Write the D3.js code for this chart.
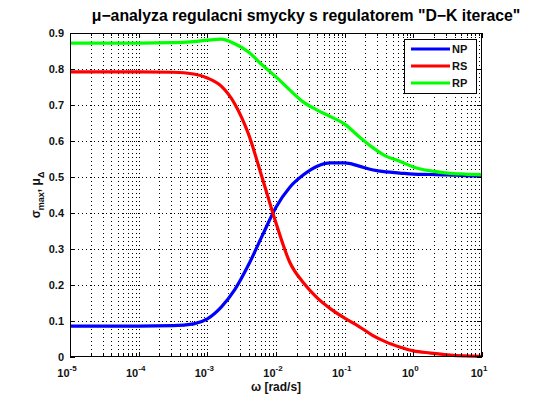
<!DOCTYPE html>
<html>
<head>
<meta charset="utf-8">
<script src="https://cdn.jsdelivr.net/npm/d3@7"></script>
<style>
  html, body { margin: 0; padding: 0; background: #fff; }
  svg { display: block; font-family: "Liberation Sans", Arial, Helvetica, sans-serif; }
</style>
</head>
<body>
<svg id="chart" width="535" height="395"></svg>
<script>
// Frequency grid [rad/s]
const omega = [1e-5, 1e-4, 3.16e-4, 6.31e-4, 1e-3, 1.58e-3, 2.51e-3, 3.98e-3, 6.31e-3,
  1e-2, 1.58e-2, 2.51e-2, 3.98e-2, 6.31e-2, 0.1, 0.158, 0.251, 0.398, 0.631,
  1, 1.78, 3.16, 5.62, 10];

// Nominal performance (blue)
const NP = [0.086, 0.086, 0.087, 0.092, 0.106, 0.138, 0.187, 0.256, 0.337,
  0.416, 0.471, 0.506, 0.530, 0.539, 0.539, 0.531, 0.520, 0.514, 0.511,
  0.508, 0.507, 0.506, 0.504, 0.503];

// Robust stability (red)
const RS = [0.792, 0.792, 0.791, 0.786, 0.775, 0.753, 0.703, 0.619, 0.497,
  0.372, 0.264, 0.206, 0.164, 0.133, 0.108, 0.086, 0.061, 0.042, 0.028,
  0.017, 0.011, 0.006, 0.003, 0.002];

// Robust performance (green)
const RP = [0.872, 0.872, 0.873, 0.876, 0.880, 0.883, 0.870, 0.847, 0.811,
  0.778, 0.742, 0.708, 0.686, 0.667, 0.647, 0.614, 0.583, 0.558, 0.544,
  0.528, 0.517, 0.511, 0.508, 0.506];

const seriesNames = ["NP", "RS", "RP"];
const seriesColors = ["#0000ff", "#ff0000", "#00ff00"];
const seriesValues = [NP, RS, RP];

const xTicks = [1e-5, 1e-4, 1e-3, 1e-2, 1e-1, 1, 10];
const xTickExp = ["-5", "-4", "-3", "-2", "-1", "0", "1"];
const yTicks = [0, 0.1, 0.2, 0.3, 0.4, 0.5, 0.6, 0.7, 0.8, 0.9];
const yTickLabels = ["0", "0.1", "0.2", "0.3", "0.4", "0.5", "0.6", "0.7", "0.8", "0.9"];

const titleText = "\u03bc\u2212analyza regulacni smycky s regulatorem \"D\u2212K iterace\"";

const svg = d3.select("#chart");
const L = 70, R = 482, T = 33, B = 357;

const x = d3.scaleLog().domain([1e-5, 10]).range([L, R]);
const y = d3.scaleLinear().domain([0, 0.9]).range([B, T]);

// minor decade subdivisions
const minorX = [];
for (let e = -5; e < 1; e++) {
  for (let k = 2; k <= 9; k++) minorX.push(k * Math.pow(10, e));
}

const grid = svg.append("g").attr("stroke", "#000").attr("stroke-width", 1)
  .attr("shape-rendering", "crispEdges");

// vertical grid, major and minor
grid.selectAll("line.vx").data(xTicks.slice(1, -1).concat(minorX)).join("line")
  .attr("x1", d => Math.round(x(d)) + 0.5).attr("x2", d => Math.round(x(d)) + 0.5)
  .attr("y1", T).attr("y2", B)
  .attr("stroke-dasharray", "1,3");

// horizontal grid
grid.selectAll("line.hy").data(yTicks.slice(1, -1)).join("line")
  .attr("x1", L).attr("x2", R)
  .attr("y1", d => Math.round(y(d)) + 0.5).attr("y2", d => Math.round(y(d)) + 0.5)
  .attr("stroke-dasharray", "1,3");

// data lines
const line = d3.line()
  .x((d, i) => x(omega[i]))
  .y(d => y(d))
  .curve(d3.curveMonotoneX);

svg.append("g").selectAll("path").data(seriesValues).join("path")
  .attr("d", d => line(d))
  .attr("fill", "none")
  .attr("stroke", (d, i) => seriesColors[i])
  .attr("stroke-width", 3.2)
  .attr("stroke-linejoin", "round");

// axes frame with inward ticks
const frame = svg.append("g").attr("stroke", "#000").attr("shape-rendering", "crispEdges");
frame.append("rect").attr("x", L + 0.5).attr("y", T + 0.5)
  .attr("width", R - L - 1).attr("height", B - T - 1)
  .attr("fill", "none").attr("stroke-width", 1);

const tickMajor = 5, tickMinor = 3;
xTicks.forEach(v => {
  const px = Math.round(x(v)) + 0.5;
  frame.append("line").attr("x1", px).attr("x2", px).attr("y1", B).attr("y2", B - tickMajor);
  frame.append("line").attr("x1", px).attr("x2", px).attr("y1", T).attr("y2", T + tickMajor);
});
minorX.forEach(v => {
  const px = Math.round(x(v)) + 0.5;
  frame.append("line").attr("x1", px).attr("x2", px).attr("y1", B).attr("y2", B - tickMinor);
  frame.append("line").attr("x1", px).attr("x2", px).attr("y1", T).attr("y2", T + tickMinor);
});
yTicks.forEach(v => {
  const py = Math.round(y(v)) + 0.5;
  frame.append("line").attr("x1", L).attr("x2", L + tickMajor).attr("y1", py).attr("y2", py);
  frame.append("line").attr("x1", R).attr("x2", R - tickMajor).attr("y1", py).attr("y2", py);
});

// tick labels
const labelColor = "#111";
svg.append("g").selectAll("text").data(yTicks).join("text")
  .attr("x", L - 6).attr("y", d => y(d) + 4)
  .attr("text-anchor", "end")
  .attr("font-size", 11).attr("font-weight", "bold").attr("fill", labelColor)
  .text((d, i) => yTickLabels[i]);

const xl = svg.append("g").selectAll("text").data(xTicks).join("text")
  .attr("x", d => x(d) - 3).attr("y", B + 20)
  .attr("text-anchor", "middle")
  .attr("font-size", 11).attr("font-weight", "bold").attr("fill", labelColor);
xl.append("tspan").text("10");
xl.append("tspan").attr("dy", -6).attr("font-size", 8).text((d, i) => xTickExp[i]);

// axis titles
svg.append("text").attr("x", (L + R) / 2).attr("y", B + 34)
  .attr("text-anchor", "middle").attr("font-size", 12).attr("font-weight", "bold")
  .attr("fill", labelColor).text("\u03c9 [rad/s]");

const yl = svg.append("text")
  .attr("transform", `translate(40,${(T + B) / 2}) rotate(-90)`)
  .attr("text-anchor", "middle").attr("font-size", 12).attr("font-weight", "bold")
  .attr("fill", labelColor);
yl.append("tspan").text("\u03c3");
yl.append("tspan").attr("dy", 4).attr("font-size", 9).text("max");
yl.append("tspan").attr("dy", -4).text(", \u03bc");
yl.append("tspan").attr("dy", 4).attr("font-size", 9).text("\u0394");

// title
svg.append("text").attr("x", 306).attr("y", 21)
  .attr("text-anchor", "middle").attr("font-size", 15.8).attr("font-weight", "bold")
  .attr("fill", "#000").text(titleText);

// legend
const lg = svg.append("g");
lg.append("rect").attr("x", 404.5).attr("y", 39.5).attr("width", 72).attr("height", 54)
  .attr("fill", "#fff").attr("stroke", "#000").attr("shape-rendering", "crispEdges");
seriesNames.forEach((n, i) => {
  const yy = 49 + i * 17;
  lg.append("line").attr("x1", 411).attr("x2", 450).attr("y1", yy).attr("y2", yy)
    .attr("stroke", seriesColors[i]).attr("stroke-width", 3.2);
  lg.append("text").attr("x", 452).attr("y", yy + 4).attr("font-size", 11)
    .attr("font-weight", "bold").attr("fill", labelColor).text(n);
});
</script>
</body>
</html>
